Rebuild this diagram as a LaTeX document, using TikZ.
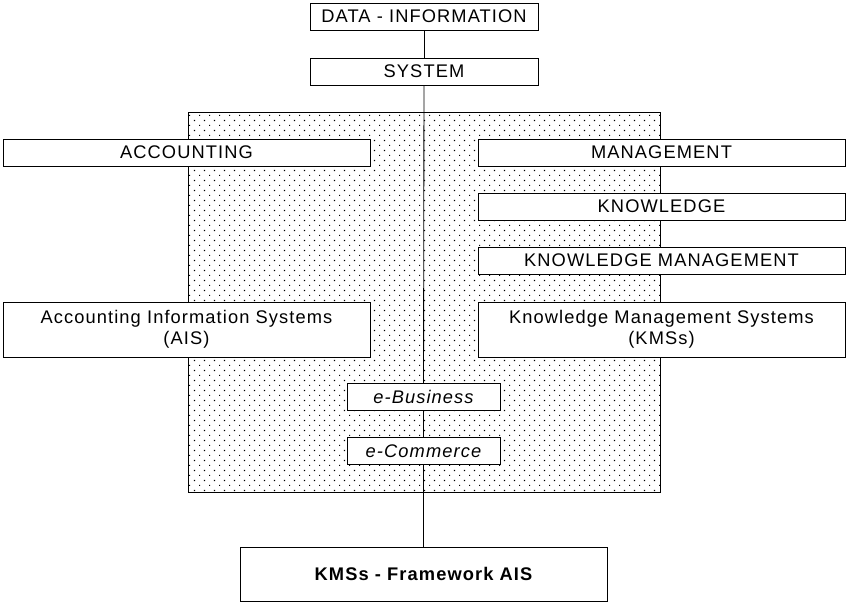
\documentclass[tikz,border=0pt]{standalone}
\usepackage{fontspec}
\setmainfont{Liberation Sans}[LetterSpace=6]
\usetikzlibrary{patterns,backgrounds}

% staggered dot raster for the shaded area
\pgfdeclarepatternformonly{sparsedots}{\pgfpointorigin}{\pgfqpoint{7.1pt}{7.1pt}}{\pgfqpoint{7.1pt}{7.1pt}}{%
  \pgfpathrectangle{\pgfqpoint{0pt}{0pt}}{\pgfqpoint{0.75pt}{0.75pt}}%
  \pgfpathrectangle{\pgfqpoint{3.55pt}{3.55pt}}{\pgfqpoint{0.75pt}{0.75pt}}%
  \pgfusepath{fill}}

\begin{document}
\begin{tikzpicture}[
    x=0.025cm, y=-0.025cm,
    line width=0.6pt,
    block/.style={draw, fill=white, line width=0.6pt,
                  minimum height=0.675cm, inner sep=0pt,
                  align=center, font=\fontsize{13}{15}\selectfont},
    shortblock/.style={block, minimum width=5.7cm},
    wideblock/.style={block, minimum width=9.175cm},
    smallblock/.style={block, minimum width=3.825cm, font=\fontsize{13}{15}\selectfont\itshape},
    tallblock/.style={wideblock, minimum height=1.375cm}
]
\useasboundingbox (0,0) rectangle (849,605);

% --- top chain ---
\node[shortblock] (data)   at (424,16.5) {DATA - INFORMATION};
\node[shortblock] (system) at (424,71.5) {SYSTEM};

% --- left column ---
\node[wideblock] (accounting) at (186.5,152.5) {ACCOUNTING};
\node[tallblock] (ais)        at (186.5,329.5) {Accounting Information Systems\\(AIS)};

% --- right column ---
\node[wideblock] (management) at (661.5,152.5) {MANAGEMENT};
\node[wideblock] (knowledge)  at (661.5,206.5) {KNOWLEDGE};
\node[wideblock] (kmgmt)      at (661.5,260.5) {KNOWLEDGE MANAGEMENT};
\node[tallblock] (kms)        at (661.5,329.5) {Knowledge Management Systems\\(KMSs)};

% --- middle ---
\node[smallblock] (ebusiness) at (423.5,397) {e-Business};
\node[smallblock] (ecommerce) at (423.5,451) {e-Commerce};

% --- result ---
\node[tallblock, minimum height=1.35cm,
      font=\fontsize{13}{15}\selectfont\bfseries] (framework) at (423.5,574) {KMSs - Framework AIS};

% --- dotted area ---
\begin{scope}[on background layer]
  \fill[white] (0,0) rectangle (849,605);
  \draw[pattern=sparsedots, pattern color=black] (188,112) rectangle (660,492);
\end{scope}

% --- connectors ---
\draw (data) -- (system);
\draw (system) -- (ebusiness);
\draw (ebusiness) -- (ecommerce);
\draw (ecommerce) -- (framework);

\end{tikzpicture}
\end{document}
